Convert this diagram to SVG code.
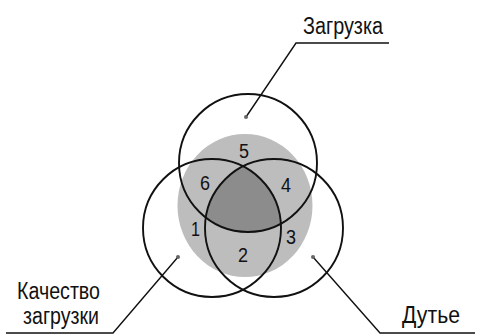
<svg xmlns="http://www.w3.org/2000/svg" width="477" height="336" viewBox="0 0 477 336">
<style>
.ring{fill:none;stroke:#111;stroke-width:1.9}
.lead{fill:none;stroke:#111;stroke-width:1.4}
.lbl{font-family:"Liberation Sans",Arial,sans-serif;font-size:23px;fill:#111}
.num{font-family:"Liberation Sans",Arial,sans-serif;font-size:20px;fill:#111}
.dot{fill:#666}
</style>
<defs>
<clipPath id="clipL"><circle cx="212" cy="228" r="69"/></clipPath>
<clipPath id="clipR"><circle cx="274" cy="228" r="69"/></clipPath>
</defs>
<rect width="477" height="336" fill="#ffffff"/>
<g id="zone">
<ellipse cx="245" cy="205.5" rx="67.5" ry="71.5" fill="#bdbdbd"/>
<g clip-path="url(#clipL)">
<circle cx="248" cy="163" r="69" fill="#8c8c8c" clip-path="url(#clipR)"/>
</g>
</g>
<g id="circle-zagruzka"><circle class="ring" cx="248" cy="163" r="69"/></g>
<g id="circle-kachestvo"><circle class="ring" cx="212" cy="228" r="69"/></g>
<g id="circle-dutie"><circle class="ring" cx="274" cy="228" r="69"/></g>
<g id="numbers">
<text class="num" x="239" y="158" textLength="10" lengthAdjust="spacingAndGlyphs">5</text>
<text class="num" x="200" y="190" textLength="10" lengthAdjust="spacingAndGlyphs">6</text>
<text class="num" x="281" y="192" textLength="10" lengthAdjust="spacingAndGlyphs">4</text>
<text class="num" x="191" y="236" textLength="9" lengthAdjust="spacingAndGlyphs">1</text>
<text class="num" x="286" y="244" textLength="10" lengthAdjust="spacingAndGlyphs">3</text>
<text class="num" x="238" y="262" textLength="10" lengthAdjust="spacingAndGlyphs">2</text>
</g>
<g id="connectors">
<polyline class="lead" points="389,43 296,43 246,117"/>
<polyline class="lead" points="6,333 113,333 178,257"/>
<polyline class="lead" points="475,333 380,333 313,257"/>
<circle class="dot" cx="246" cy="117" r="2"/>
<circle class="dot" cx="178" cy="257" r="2"/>
<circle class="dot" cx="313" cy="257" r="2"/>
</g>
<g id="label-zagruzka"><text class="lbl" x="303" y="34" textLength="80" lengthAdjust="spacingAndGlyphs">Загрузка</text></g>
<g id="label-kachestvo"><text class="lbl" x="17" y="299" textLength="83" lengthAdjust="spacingAndGlyphs">Качество</text><text class="lbl" x="23" y="324" textLength="76" lengthAdjust="spacingAndGlyphs">загрузки</text></g>
<g id="label-dutie"><text class="lbl" x="402" y="323" textLength="58" lengthAdjust="spacingAndGlyphs">Дутье</text></g>
</svg>
